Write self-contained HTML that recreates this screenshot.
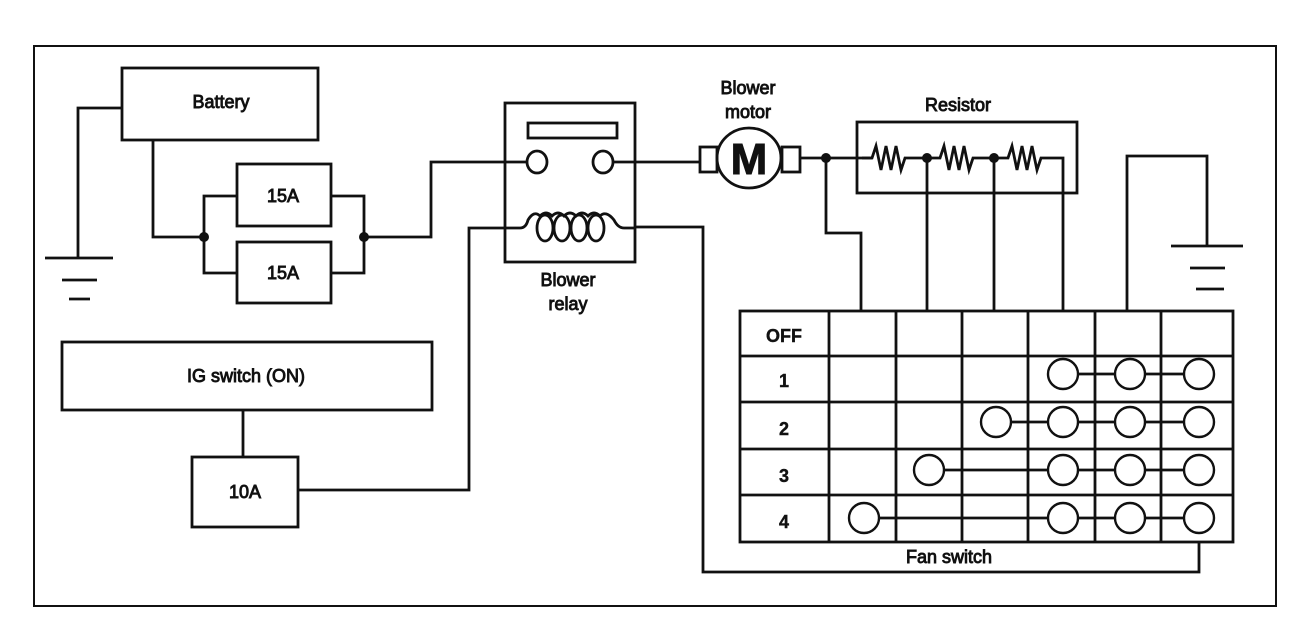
<!DOCTYPE html>
<html><head><meta charset="utf-8"><style>
html,body{margin:0;padding:0;background:#fff;}
svg{display:block;}
text{font-family:"Liberation Sans",Arial,sans-serif;font-size:18px;fill:#111;stroke:#111;stroke-width:0.9;text-anchor:middle;}
text.b{font-weight:bold;stroke-width:0.4;}
</style></head><body>
<svg width="1312" height="640" viewBox="0 0 1312 640" xmlns="http://www.w3.org/2000/svg">
<g fill="none" stroke="#111" stroke-width="2.8">
<rect x="34" y="46" width="1242" height="560" stroke-width="2"/>
<rect x="122" y="68" width="196" height="72"/>
<polyline points="122,108 78,108 78,258"/>
<line x1="45" y1="258" x2="113" y2="258"/>
<line x1="62" y1="280" x2="97" y2="280"/>
<line x1="69" y1="299" x2="90" y2="299"/>
<polyline points="153,140 153,237 204,237"/>
<rect x="237" y="164" width="94" height="62"/>
<rect x="237" y="242" width="94" height="61"/>
<polyline points="237,196 204,196 204,273 237,273"/>
<polyline points="331,196 364,196 364,273 331,273"/>
<polyline points="364,237 431,237 431,162 526,162"/>
<rect x="505" y="103" width="130" height="159"/>
<rect x="528" y="123" width="89" height="15"/>
<ellipse cx="537" cy="162" rx="10" ry="11"/>
<ellipse cx="603" cy="162" rx="10" ry="11"/>
<path d="M520,228 Q526,228 528,220 Q534,210 540,216 Q546,210 552,216 Q558,210 564,216 Q570,210 576,216 Q582,210 588,216 Q594,210 600,216 Q606,210 614,220 Q618,228 624,228 L636,228"/>
<ellipse cx="545" cy="228" rx="8" ry="13"/>
<ellipse cx="562" cy="228" rx="8" ry="13"/>
<ellipse cx="579" cy="228" rx="8" ry="13"/>
<ellipse cx="596" cy="228" rx="8" ry="13"/>
<polyline points="520,228 469,228 469,490 298,490"/>
<polyline points="636,227 703,227 703,572 1199,572 1199,542"/>
<rect x="62" y="342" width="370" height="68"/>
<line x1="243" y1="410" x2="243" y2="457"/>
<rect x="192" y="457" width="106" height="70"/>
<line x1="613" y1="162" x2="700" y2="162"/>
<rect x="700" y="147" width="17" height="25"/>
<rect x="782" y="147" width="18" height="25"/>
<ellipse cx="749" cy="158" rx="32" ry="30"/>
<line x1="800" y1="158" x2="872" y2="158"/>
<polyline points="826,158 826,233 861,233 861,310"/>
<rect x="857" y="122" width="220" height="71"/>
<polyline points="862,158 872,158 876,146 881,170 886,146 891,170 896,146 901,170 905,158 927,158 940,158 944,146 949,170 954,146 959,170 964,146 969,170 973,158 994,158 1008,158 1012,146 1017,170 1022,146 1027,170 1032,146 1037,170 1041,158 1063,158 1063,310"/>
<line x1="927" y1="158" x2="927" y2="310"/>
<line x1="994" y1="158" x2="994" y2="310"/>
<polyline points="1127,310 1127,156 1207,156 1207,246"/>
<line x1="1171" y1="246" x2="1243" y2="246"/>
<line x1="1190" y1="268" x2="1225" y2="268"/>
<line x1="1196" y1="289" x2="1224" y2="289"/>
<rect x="740" y="311" width="493" height="231"/>
<line x1="829" y1="311" x2="829" y2="542"/>
<line x1="896" y1="311" x2="896" y2="542"/>
<line x1="962" y1="311" x2="962" y2="542"/>
<line x1="1028" y1="311" x2="1028" y2="542"/>
<line x1="1095" y1="311" x2="1095" y2="542"/>
<line x1="1161" y1="311" x2="1161" y2="542"/>
<line x1="740" y1="356" x2="1233" y2="356"/>
<line x1="740" y1="402" x2="1233" y2="402"/>
<line x1="740" y1="449" x2="1233" y2="449"/>
<line x1="740" y1="495" x2="1233" y2="495"/>
<line x1="1063" y1="374" x2="1199" y2="374"/>
<line x1="996" y1="422" x2="1199" y2="422"/>
<line x1="929" y1="470" x2="1199" y2="470"/>
<line x1="864" y1="518" x2="1199" y2="518"/>
</g>
<g fill="#fff" stroke="#111" stroke-width="2.4">
<circle cx="1063" cy="374" r="15"/><circle cx="1130" cy="374" r="15"/><circle cx="1199" cy="374" r="15"/>
<circle cx="996" cy="422" r="15"/><circle cx="1063" cy="422" r="15"/><circle cx="1130" cy="422" r="15"/><circle cx="1199" cy="422" r="15"/>
<circle cx="929" cy="470" r="15"/><circle cx="1063" cy="470" r="15"/><circle cx="1130" cy="470" r="15"/><circle cx="1199" cy="470" r="15"/>
<circle cx="864" cy="518" r="15"/><circle cx="1063" cy="518" r="15"/><circle cx="1130" cy="518" r="15"/><circle cx="1199" cy="518" r="15"/>
</g>
<g fill="#111">
<circle cx="204" cy="237" r="5"/><circle cx="364" cy="237" r="5"/>
<circle cx="826" cy="158" r="5"/><circle cx="927" cy="158" r="5"/><circle cx="994" cy="158" r="5"/>
</g>
<text x="221" y="108">Battery</text>
<text x="283" y="202">15A</text>
<text x="283" y="279">15A</text>
<text x="568" y="286">Blower</text>
<text x="568" y="310">relay</text>
<text x="748" y="94">Blower</text>
<text x="748" y="118">motor</text>
<text x="958" y="111">Resistor</text>
<text x="246" y="382">IG switch (ON)</text>
<text x="245" y="498">10A</text>
<text class="b" x="784" y="342">OFF</text>
<text class="b" x="784" y="387">1</text>
<text class="b" x="784" y="435">2</text>
<text class="b" x="784" y="482">3</text>
<text class="b" x="784" y="528">4</text>
<text x="949" y="563">Fan switch</text>
<text x="749" y="174" style="font-size:44px;font-weight:bold;stroke-width:1">M</text>
</svg>
</body></html>
